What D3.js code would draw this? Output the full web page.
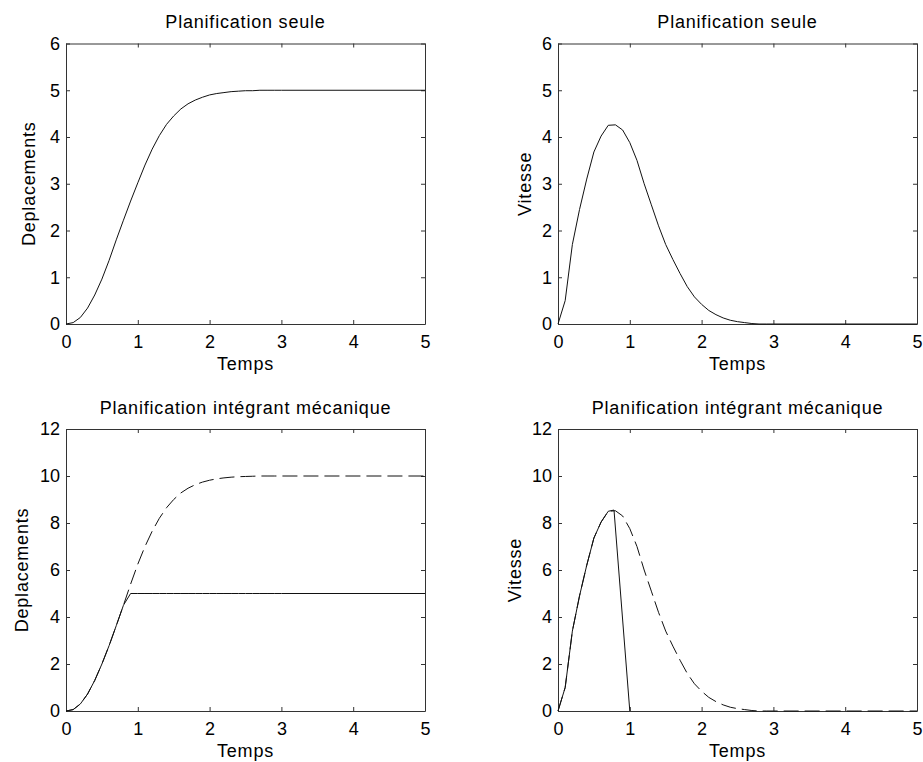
<!DOCTYPE html>
<html>
<head>
  <meta charset="utf-8">
  <title>Planification</title>
  <script src="https://cdn.jsdelivr.net/npm/d3@7"></script>
  <style>
    body { margin: 0; background: #fff; }
    svg { display: block; }
    text { font-family: "Liberation Sans", Arial, sans-serif; fill: #000; }
    .lbl { font-size: 18px; letter-spacing: 0.8px; }
    .domain, .tick line { stroke: #333; }
  </style>
</head>
<body>
<svg width="923" height="762"></svg>
<script>
// temps (s) -- apres 3 s toutes les courbes sont constantes
var temps = [0,0.1,0.2,0.3,0.4,0.5,0.6,0.7,0.8,0.9,1.0,1.1,1.2,1.3,1.4,1.5,1.6,1.7,1.8,1.9,
             2.0,2.1,2.2,2.3,2.4,2.5,2.6,2.7,2.8,2.9,3.0,5];
var tempsCoupe = [0,0.1,0.2,0.3,0.4,0.5,0.6,0.7,0.78,1.0];

// planification seule
var depSeule = [0,0.03,0.14,0.34,0.62,0.96,1.36,1.8,2.22,2.63,3.02,3.4,3.74,4.03,4.27,4.45,4.6,4.71,4.79,4.85,
                4.9,4.93,4.95,4.97,4.98,4.99,4.99,5,5,5,5,5];
var vitSeule = [0,0.5,1.7,2.45,3.1,3.68,4.02,4.25,4.26,4.15,3.88,3.5,3.0,2.55,2.1,1.7,1.38,1.08,0.8,0.58,
                0.42,0.29,0.2,0.13,0.08,0.05,0.03,0.01,0,0,0,0];

// planification integrant mecanique
var depMeca = [0,0.06,0.3,0.72,1.3,2.0,2.78,3.63,4.5,5.4,6.25,7.0,7.65,8.2,8.65,9.0,9.28,9.48,9.63,9.74,
               9.82,9.88,9.92,9.95,9.97,9.98,9.99,10,10,10,10,10];
var depMecaReel = [0,0.06,0.3,0.72,1.3,2.0,2.78,3.63,4.5,5,5,5,5,5,5,5,5,5,5,5,
                   5,5,5,5,5,5,5,5,5,5,5,5];
var vitMeca = [0,1.0,3.4,4.9,6.2,7.36,8.04,8.5,8.52,8.3,7.76,7.0,6.0,5.1,4.2,3.4,2.76,2.16,1.6,1.16,
               0.84,0.58,0.4,0.26,0.16,0.1,0.06,0.02,0,0,0,0];
var vitMecaCoupe = [0,1.0,3.4,4.9,6.2,7.36,8.04,8.5,8.55,0];

var xTicks = [0,1,2,3,4,5];
var yTicksHaut = [0,1,2,3,4,5,6];
var yTicksBas = [0,2,4,6,8,10,12];

var svg = d3.select("svg");

var panneaux = [
  {x0:66,  x1:425, y0:43.5, y1:324, ymax:6,  yt:yTicksHaut, titre:"Planification seule", ylab:"Deplacements", yoff:31,
   series:[{t:temps, v:depSeule, dash:null}]},
  {x0:558, x1:917, y0:43.5, y1:324, ymax:6,  yt:yTicksHaut, titre:"Planification seule", ylab:"Vitesse", yoff:27,
   series:[{t:temps, v:vitSeule, dash:null}]},
  {x0:66,  x1:425, y0:429,  y1:711, ymax:12, yt:yTicksBas, titre:"Planification intégrant mécanique", ylab:"Deplacements", yoff:38,
   series:[{t:temps, v:depMeca, dash:"15,6"}, {t:temps, v:depMecaReel, dash:null}]},
  {x0:558, x1:917, y0:429,  y1:711, ymax:12, yt:yTicksBas, titre:"Planification intégrant mécanique", ylab:"Vitesse", yoff:37,
   series:[{t:temps, v:vitMeca, dash:"15,6"}, {t:tempsCoupe, v:vitMecaCoupe, dash:null}]}
];

var fmt = d3.format("d");

panneaux.forEach(function(p) {
  var x = d3.scaleLinear().domain([0, 5]).range([p.x0, p.x1]);
  var y = d3.scaleLinear().domain([0, p.ymax]).range([p.y1, p.y0]);
  var g = svg.append("g");

  g.append("g").attr("transform", "translate(0," + p.y1 + ")")
    .call(d3.axisBottom(x).tickValues(xTicks).tickFormat(fmt).tickSize(-4).tickSizeOuter(0).tickPadding(11));
  g.append("g").attr("transform", "translate(0," + p.y0 + ")")
    .call(d3.axisTop(x).tickValues(xTicks).tickSize(-4).tickSizeOuter(0).tickFormat(""));
  g.append("g").attr("transform", "translate(" + p.x0 + ",0)")
    .call(d3.axisLeft(y).tickValues(p.yt).tickFormat(fmt).tickSize(-4).tickSizeOuter(0).tickPadding(6));
  g.append("g").attr("transform", "translate(" + p.x1 + ",0)")
    .call(d3.axisRight(y).tickValues(p.yt).tickSize(-4).tickSizeOuter(0).tickFormat(""));
  g.selectAll(".tick text").attr("fill", "#000").attr("font-size", null)
    .style("font-family", "Liberation Sans, Arial, sans-serif").style("font-size", "18px");

  var line = d3.line().x(function(d) { return x(d[0]); }).y(function(d) { return y(d[1]); });
  p.series.forEach(function(s) {
    g.append("path")
      .datum(d3.zip(s.t, s.v))
      .attr("d", line)
      .attr("fill", "none")
      .attr("stroke", "#111")
      .attr("stroke-width", 1)
      .attr("stroke-dasharray", s.dash);
  });

  g.append("text").attr("class", "lbl")
    .attr("x", (p.x0 + p.x1) / 2).attr("y", p.y0 - 15.5)
    .attr("text-anchor", "middle").text(p.titre);
  g.append("text").attr("class", "lbl")
    .attr("x", (p.x0 + p.x1) / 2).attr("y", p.y1 + 46)
    .attr("text-anchor", "middle").text("Temps");
  g.append("text").attr("class", "lbl")
    .attr("transform", "translate(" + (p.x0 - p.yoff) + "," + ((p.y0 + p.y1) / 2) + ") rotate(-90)")
    .attr("text-anchor", "middle").text(p.ylab);
});
</script>
</body>
</html>
